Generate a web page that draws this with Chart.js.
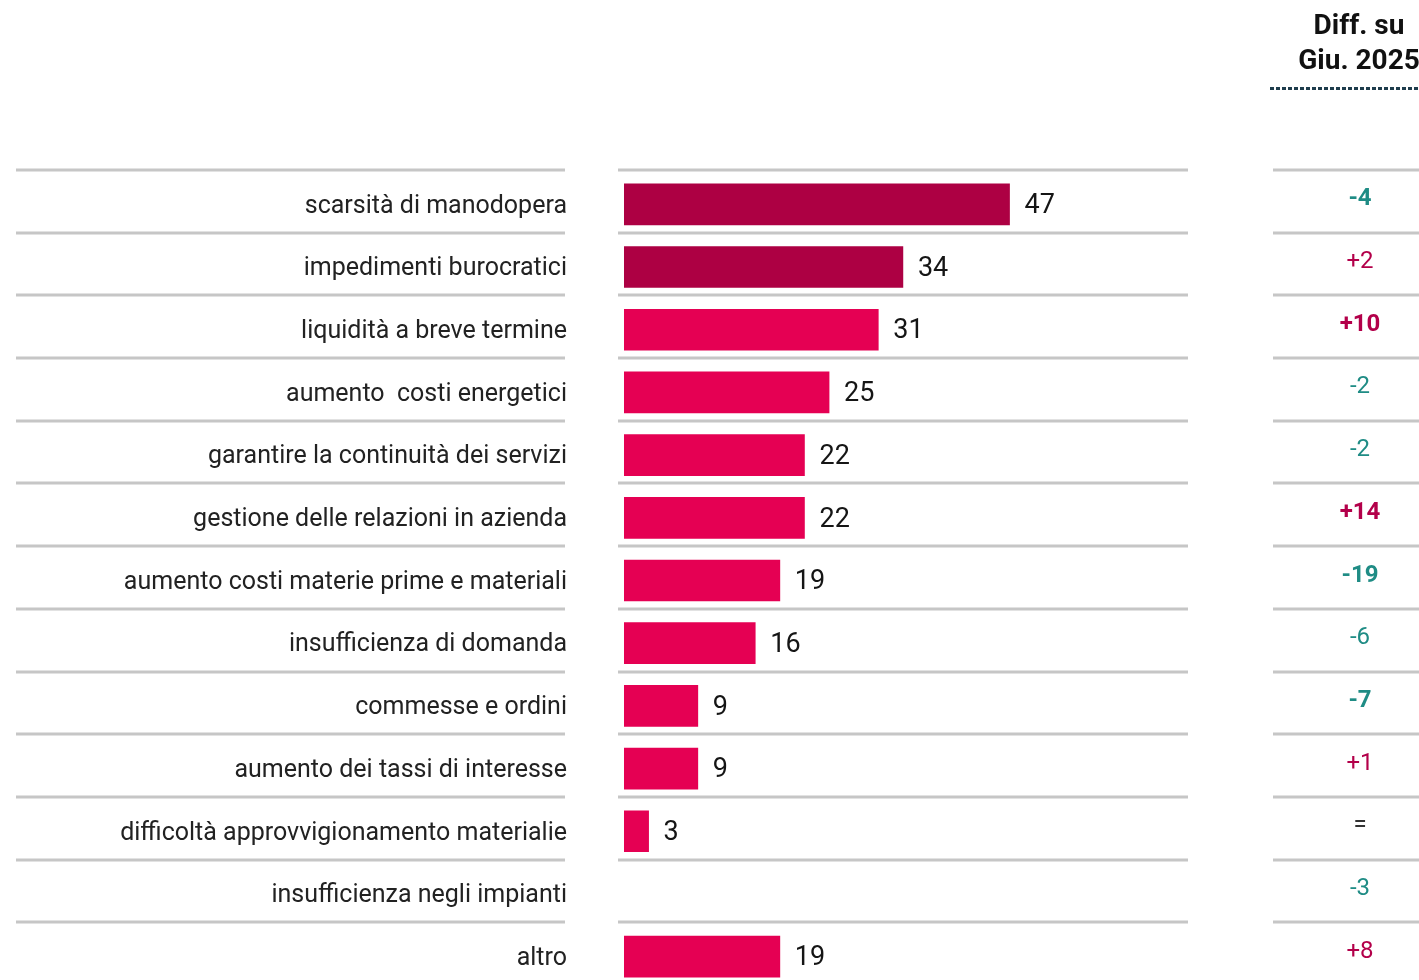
<!DOCTYPE html>
<html>
<head>
<meta charset="utf-8">
<script src="https://cdn.jsdelivr.net/npm/chart.js@4/dist/chart.umd.min.js"></script>
<style>
  html, body { margin: 0; padding: 0; background: #fff; overflow: hidden; }
  #wrap { width: 1419px; height: 980px; overflow: hidden; }
  canvas { display: block; }
</style>
</head>
<body>
<div id="wrap"><canvas id="chart" width="1419" height="988"></canvas></div>
<script>
// categories and values
const categories = [
  'scarsità di manodopera',
  'impedimenti burocratici',
  'liquidità a breve termine',
  'aumento  costi energetici',
  'garantire la continuità dei servizi',
  'gestione delle relazioni in azienda',
  'aumento costi materie prime e materiali',
  'insufficienza di domanda',
  'commesse e ordini',
  'aumento dei tassi di interesse',
  'difficoltà approvvigionamento materialie',
  'insufficienza negli impianti',
  'altro'
];
const values = [47, 34, 31, 25, 22, 22, 19, 16, 9, 9, 3, null, 19];
const diffLabels = ['-4', '+2', '+10', '-2', '-2', '+14', '-19', '-6', '-7', '+1', '=', '-3', '+8'];
const diffBold = [true, false, true, false, false, true, true, false, true, false, false, false, false];
const diffTitle = ['Diff. su', 'Giu. 2025'];

const DARK = '#ad0043';
const PINK = '#e50053';
const TEAL = '#1f8c85';
const CRIMSON = '#b3004a';
const LINE = '#c6c6c6';

// row separators, value labels and diff column
const extras = {
  id: 'extras',
  beforeDatasetsDraw(chart) {
    const ctx = chart.ctx;
    const area = chart.chartArea;
    const step = (area.bottom - area.top) / categories.length;
    ctx.save();
    ctx.strokeStyle = LINE;
    ctx.lineWidth = 3;
    for (let i = 0; i < categories.length; i++) {
      const y = Math.round(area.top + i * step) - 3;
      ctx.beginPath();
      ctx.moveTo(16, y); ctx.lineTo(565, y);
      ctx.moveTo(618, y); ctx.lineTo(1188, y);
      ctx.moveTo(1273, y); ctx.lineTo(1419, y);
      ctx.stroke();
    }
    ctx.restore();
  },
  afterDatasetsDraw(chart) {
    const ctx = chart.ctx;
    const yScale = chart.scales.y;
    const meta = chart.getDatasetMeta(0);
    ctx.save();
    // value labels
    ctx.font = '400 27px Roboto';
    ctx.fillStyle = '#151515';
    ctx.textAlign = 'left';
    ctx.textBaseline = 'middle';
    meta.data.forEach((bar, i) => {
      if (values[i] == null) return;
      ctx.fillText(String(values[i]), bar.x + 15, bar.y + 2);
    });
    // diff column
    ctx.textAlign = 'center';
    diffLabels.forEach((d, i) => {
      const y = yScale.getPixelForValue(i) - 5;
      ctx.font = (diffBold[i] ? '700 ' : '400 ') + '24px Roboto';
      ctx.fillStyle = d.startsWith('-') ? TEAL : d.startsWith('+') ? CRIMSON : '#333';
      ctx.fillText(d, 1360, y);
    });
    // header
    ctx.font = '700 28px Roboto';
    ctx.fillStyle = '#111';
    ctx.fillText(diffTitle[0], 1359, 27);
    ctx.fillText(diffTitle[1], 1359, 62);
    ctx.strokeStyle = '#1f3d4d';
    ctx.lineWidth = 3;
    ctx.setLineDash([4, 2]);
    ctx.beginPath();
    ctx.moveTo(1270, 88.5); ctx.lineTo(1419, 88.5);
    ctx.stroke();
    ctx.restore();
  }
};

new Chart(document.getElementById('chart'), {
  type: 'bar',
  data: {
    labels: categories,
    datasets: [{
      data: values,
      backgroundColor: c => c.dataIndex < 2 ? DARK : PINK,
      borderWidth: 0,
      barThickness: 41,
      categoryPercentage: 1
    }]
  },
  options: {
    indexAxis: 'y',
    responsive: false,
    animation: false,
    devicePixelRatio: 1,
    layout: { padding: { top: 173, right: 229, bottom: 0, left: 0 } },
    plugins: { legend: { display: false }, tooltip: { enabled: false } },
    scales: {
      x: { display: false, min: 0, max: 69 },
      y: {
        grid: { display: false, drawTicks: false },
        border: { display: false },
        ticks: {
          padding: 57,
          labelOffset: 2,
          color: '#222',
          font: { family: 'Roboto', size: 25 },
          autoSkip: false
        },
        afterFit: s => {
          s.width = 624;
          s.paddingTop = 0;
          s.paddingBottom = 0;
        }
      }
    }
  },
  plugins: [extras]
});
</script>
</body>
</html>
